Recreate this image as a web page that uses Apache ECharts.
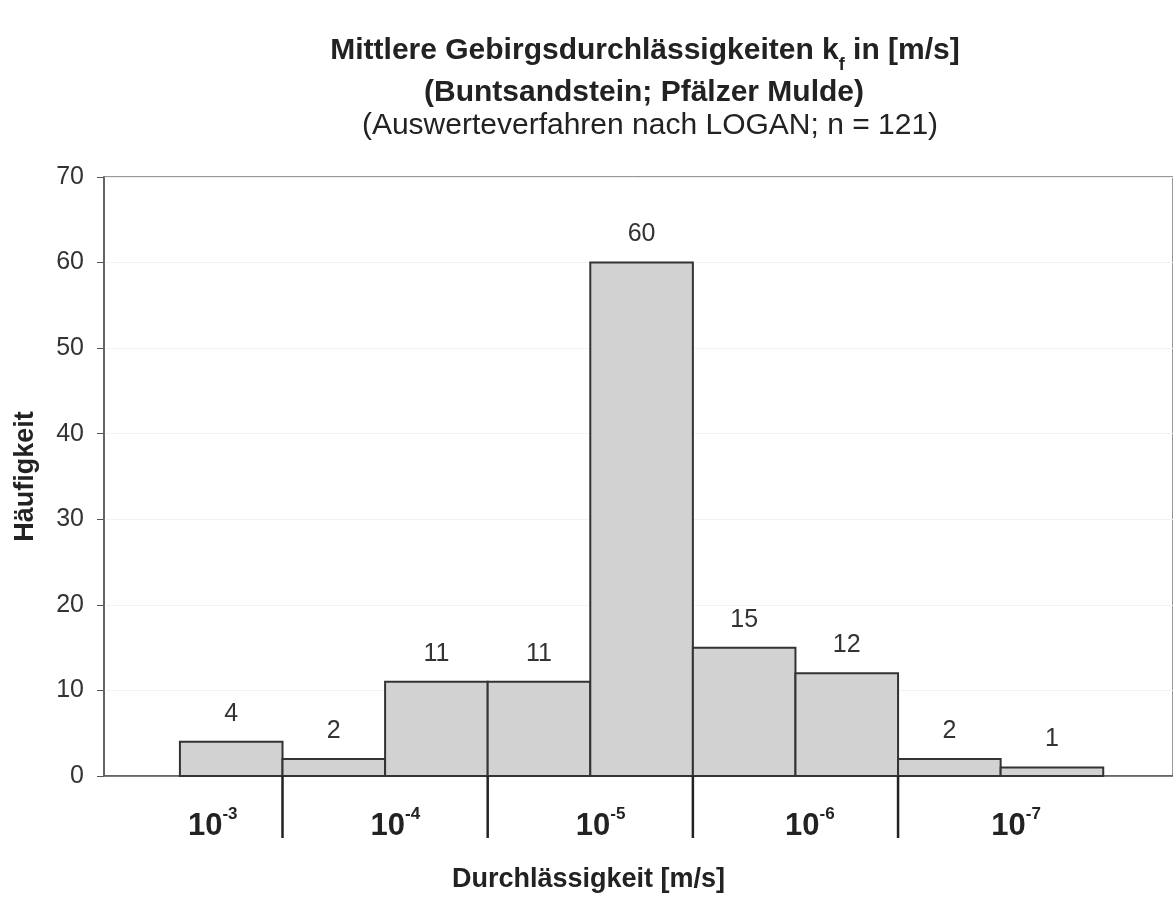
<!DOCTYPE html>
<html>
<head>
<meta charset="utf-8">
<script src="https://cdn.jsdelivr.net/npm/echarts@6/dist/echarts.min.js"></script>
<style>
html,body{margin:0;padding:0;background:#fff;}
#chart{width:1173px;height:898px;}
</style>
</head>
<body>
<div id="chart"></div>
<script>
// ---- data ----
const binIndex = [0, 1, 2, 3, 4, 5, 6, 7, 8];
const counts = [4, 2, 11, 11, 60, 15, 12, 2, 1];
const decadeBoundaries = [1, 3, 5, 7];
const decadeExponents = ['-3', '-4', '-5', '-6', '-7'];
const decadeLabelAt = [0.32, 2.1, 4.1, 6.14, 8.15];
const yMin = 0, yMax = 70, yStep = 10;
const titleLine1 = ['Mittlere Gebirgsdurchlässigkeiten k', 'f', ' in [m/s]'];
const titleLine2 = '(Buntsandstein; Pfälzer Mulde)';
const titleLine3 = '(Auswerteverfahren nach LOGAN; n = 121)';
const xName = 'Durchlässigkeit [m/s]';
const yName = 'Häufigkeit';

const FONT = '"Liberation Sans", Arial, sans-serif';
const chart = echarts.init(document.getElementById('chart'), null, {renderer: 'canvas'});

const barData = binIndex.map((b, i) => [b, counts[i]]);
const decadeData = decadeExponents.map((e, k) => [decadeLabelAt[k], 0, e]);
const boundaryData = decadeBoundaries.map(b => [b, 0]);

const option = {
  backgroundColor: '#fff',
  animation: false,
  textStyle: {fontFamily: FONT},
  grid: {left: 104, top: 177, right: 0, bottom: 122, outerBoundsMode: 'none', containLabel: false,
    show: true, borderColor: '#777', borderWidth: 1.5, backgroundColor: 'transparent'},
  graphic: [
    {type: 'text', x: 645, y: 48, style: {
      text: '{b|' + titleLine1[0] + '}{s|' + titleLine1[1] + '}{b|' + titleLine1[2] + '}',
      align: 'center', verticalAlign: 'middle',
      rich: {
        b: {fontFamily: FONT, fontSize: 30, fontWeight: 'bold', fill: '#222', lineHeight: 36, verticalAlign: 'bottom'},
        s: {fontFamily: FONT, fontSize: 18, fontWeight: 'bold', fill: '#222', lineHeight: 36, verticalAlign: 'bottom', padding: [0, 0, -8, 0]}
      }
    }},
    {type: 'text', x: 644, y: 93, style: {text: titleLine2, align: 'center', verticalAlign: 'middle',
      fontFamily: FONT, fontSize: 30, fontWeight: 'bold', fill: '#222'}},
    {type: 'text', x: 650, y: 126, style: {text: titleLine3, align: 'center', verticalAlign: 'middle',
      fontFamily: FONT, fontSize: 30, fontWeight: 'normal', fill: '#222'}}
  ],
  xAxis: {
    type: 'value', min: -0.74, max: 9.68,
    axisLine: {show: true, onZero: false, lineStyle: {color: '#555', width: 1.5}},
    axisTick: {show: false}, axisLabel: {show: false}, splitLine: {show: false},
    name: xName, nameLocation: 'middle', nameGap: 90,
    nameTextStyle: {fontFamily: FONT, fontSize: 27, fontWeight: 'bold', color: '#222', padding: [0, 100, 0, 0]}
  },
  yAxis: {
    type: 'value', min: yMin, max: yMax, interval: yStep,
    axisLine: {show: true, onZero: false, lineStyle: {color: '#555', width: 1.5}},
    axisTick: {show: true, inside: false, length: 7, lineStyle: {color: '#555'}},
    axisLabel: {fontFamily: FONT, fontSize: 25, color: '#333', margin: 20},
    splitLine: {show: true, lineStyle: {color: '#f2f2f2', width: 1}},
    name: yName, nameLocation: 'middle', nameGap: 65, nameRotate: 90,
    nameTextStyle: {fontFamily: FONT, fontSize: 27, fontWeight: 'bold', color: '#222'}
  },
  series: [
    {
      type: 'custom', name: 'counts', data: barData, encode: {x: 0, y: 1}, clip: false,
      renderItem: function (params, api) {
        const i = api.value(0), v = api.value(1);
        const p0 = api.coord([i, v]);
        const p1 = api.coord([i + 1, 0]);
        return {type: 'group', children: [
          {type: 'rect', shape: {x: p0[0], y: p0[1], width: p1[0] - p0[0], height: p1[1] - p0[1]},
            style: {fill: '#d2d2d2', stroke: '#333', lineWidth: 2}},
          {type: 'text', x: (p0[0] + p1[0]) / 2, y: p0[1] - 28,
            style: {text: String(v), align: 'center', verticalAlign: 'middle', fontFamily: FONT, fontSize: 25, fill: '#333'}}
        ]};
      }
    },
    {
      type: 'custom', name: 'boundaries', data: boundaryData, encode: {x: 0, y: 1}, clip: false,
      renderItem: function (params, api) {
        const p = api.coord([api.value(0), 0]);
        return {type: 'line', shape: {x1: p[0], y1: p[1], x2: p[0], y2: p[1] + 62},
          style: {stroke: '#222', lineWidth: 2.5}};
      }
    },
    {
      type: 'custom', name: 'decades', data: decadeData, encode: {x: 0, y: 1}, clip: false,
      renderItem: function (params, api) {
        const p = api.coord([api.value(0), 0]);
        const e = decadeExponents[params.dataIndex];
        return {type: 'text', x: p[0], y: p[1] + 48,
          style: {text: '{n|10}{s|' + e + '}', align: 'center', verticalAlign: 'middle',
            rich: {
              n: {fontFamily: FONT, fontSize: 31, fontWeight: 'bold', fill: '#222', lineHeight: 36, verticalAlign: 'bottom'},
              s: {fontFamily: FONT, fontSize: 17, fontWeight: 'bold', fill: '#222', lineHeight: 36, verticalAlign: 'top', padding: [0, 0, 0, 0]}
            }}};
      }
    }
  ]
};
chart.setOption(option);
</script>
</body>
</html>
